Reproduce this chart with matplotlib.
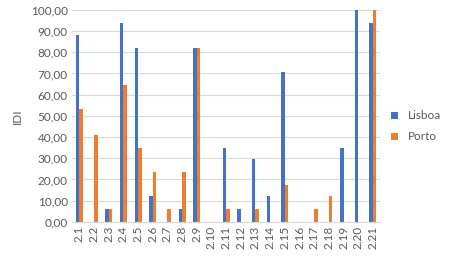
import numpy as np
import matplotlib
matplotlib.use("Agg")
import matplotlib.pyplot as plt

categories = ["2.1", "2.2", "2.3", "2.4", "2.5", "2.6", "2.7", "2.8", "2.9", "2.10", "2.11",
              "2.12", "2.13", "2.14", "2.15", "2.16", "2.17", "2.18", "2.19", "2.20", "2.21"]
lisboa = [88, 0, 6, 94, 82, 12, 0, 6, 82, 0, 35, 6, 29.5, 12, 70.5, 0, 0, 0, 35, 100, 94]
porto = [53, 41, 6, 64.5, 35, 23.5, 6, 23.5, 82, 0, 6, 0, 6, 0, 17.5, 0, 6, 12, 0, 0, 100]

plt.rcParams['font.family'] = ['Lato', 'DejaVu Sans']
grey = '#595959'

fig = plt.figure(figsize=(4.5, 2.58), dpi=100)
ax = fig.add_axes([0.16, 0.14, 0.685, 0.822])

x = np.arange(len(categories))
w = 0.24
ax.bar(x - w / 2, lisboa, w, color='#4472C4', label='Lisboa')
ax.bar(x + w / 2, porto, w, color='#ED7D31', label='Porto')

ax.set_ylim(0, 100)
ax.set_xlim(-0.5, len(categories) - 0.5)
ax.set_yticks(np.arange(0, 101, 10))
ax.set_yticklabels([f"{v:.2f}".replace('.', ',') for v in range(0, 101, 10)], fontsize=8.5, color=grey)
ax.set_xticks(x)
ax.set_xticklabels(categories, rotation=90, fontsize=8.5, color=grey)
ax.yaxis.grid(True, color='#d9d9d9', linewidth=0.8)
ax.set_axisbelow(True)
for s in ['top', 'right', 'left']:
    ax.spines[s].set_visible(False)
ax.spines['bottom'].set_color('#d9d9d9')
ax.tick_params(length=0, pad=3)
ax.set_ylabel('IDI', fontsize=8.5, color=grey, labelpad=6)

ax.legend(loc='center left', bbox_to_anchor=(1.0, 0.45), frameon=False, fontsize=8.5,
          handlelength=0.6, handleheight=0.6, labelcolor=grey, labelspacing=0.85, borderaxespad=0.5)

fig.savefig('out.png', dpi=100)
